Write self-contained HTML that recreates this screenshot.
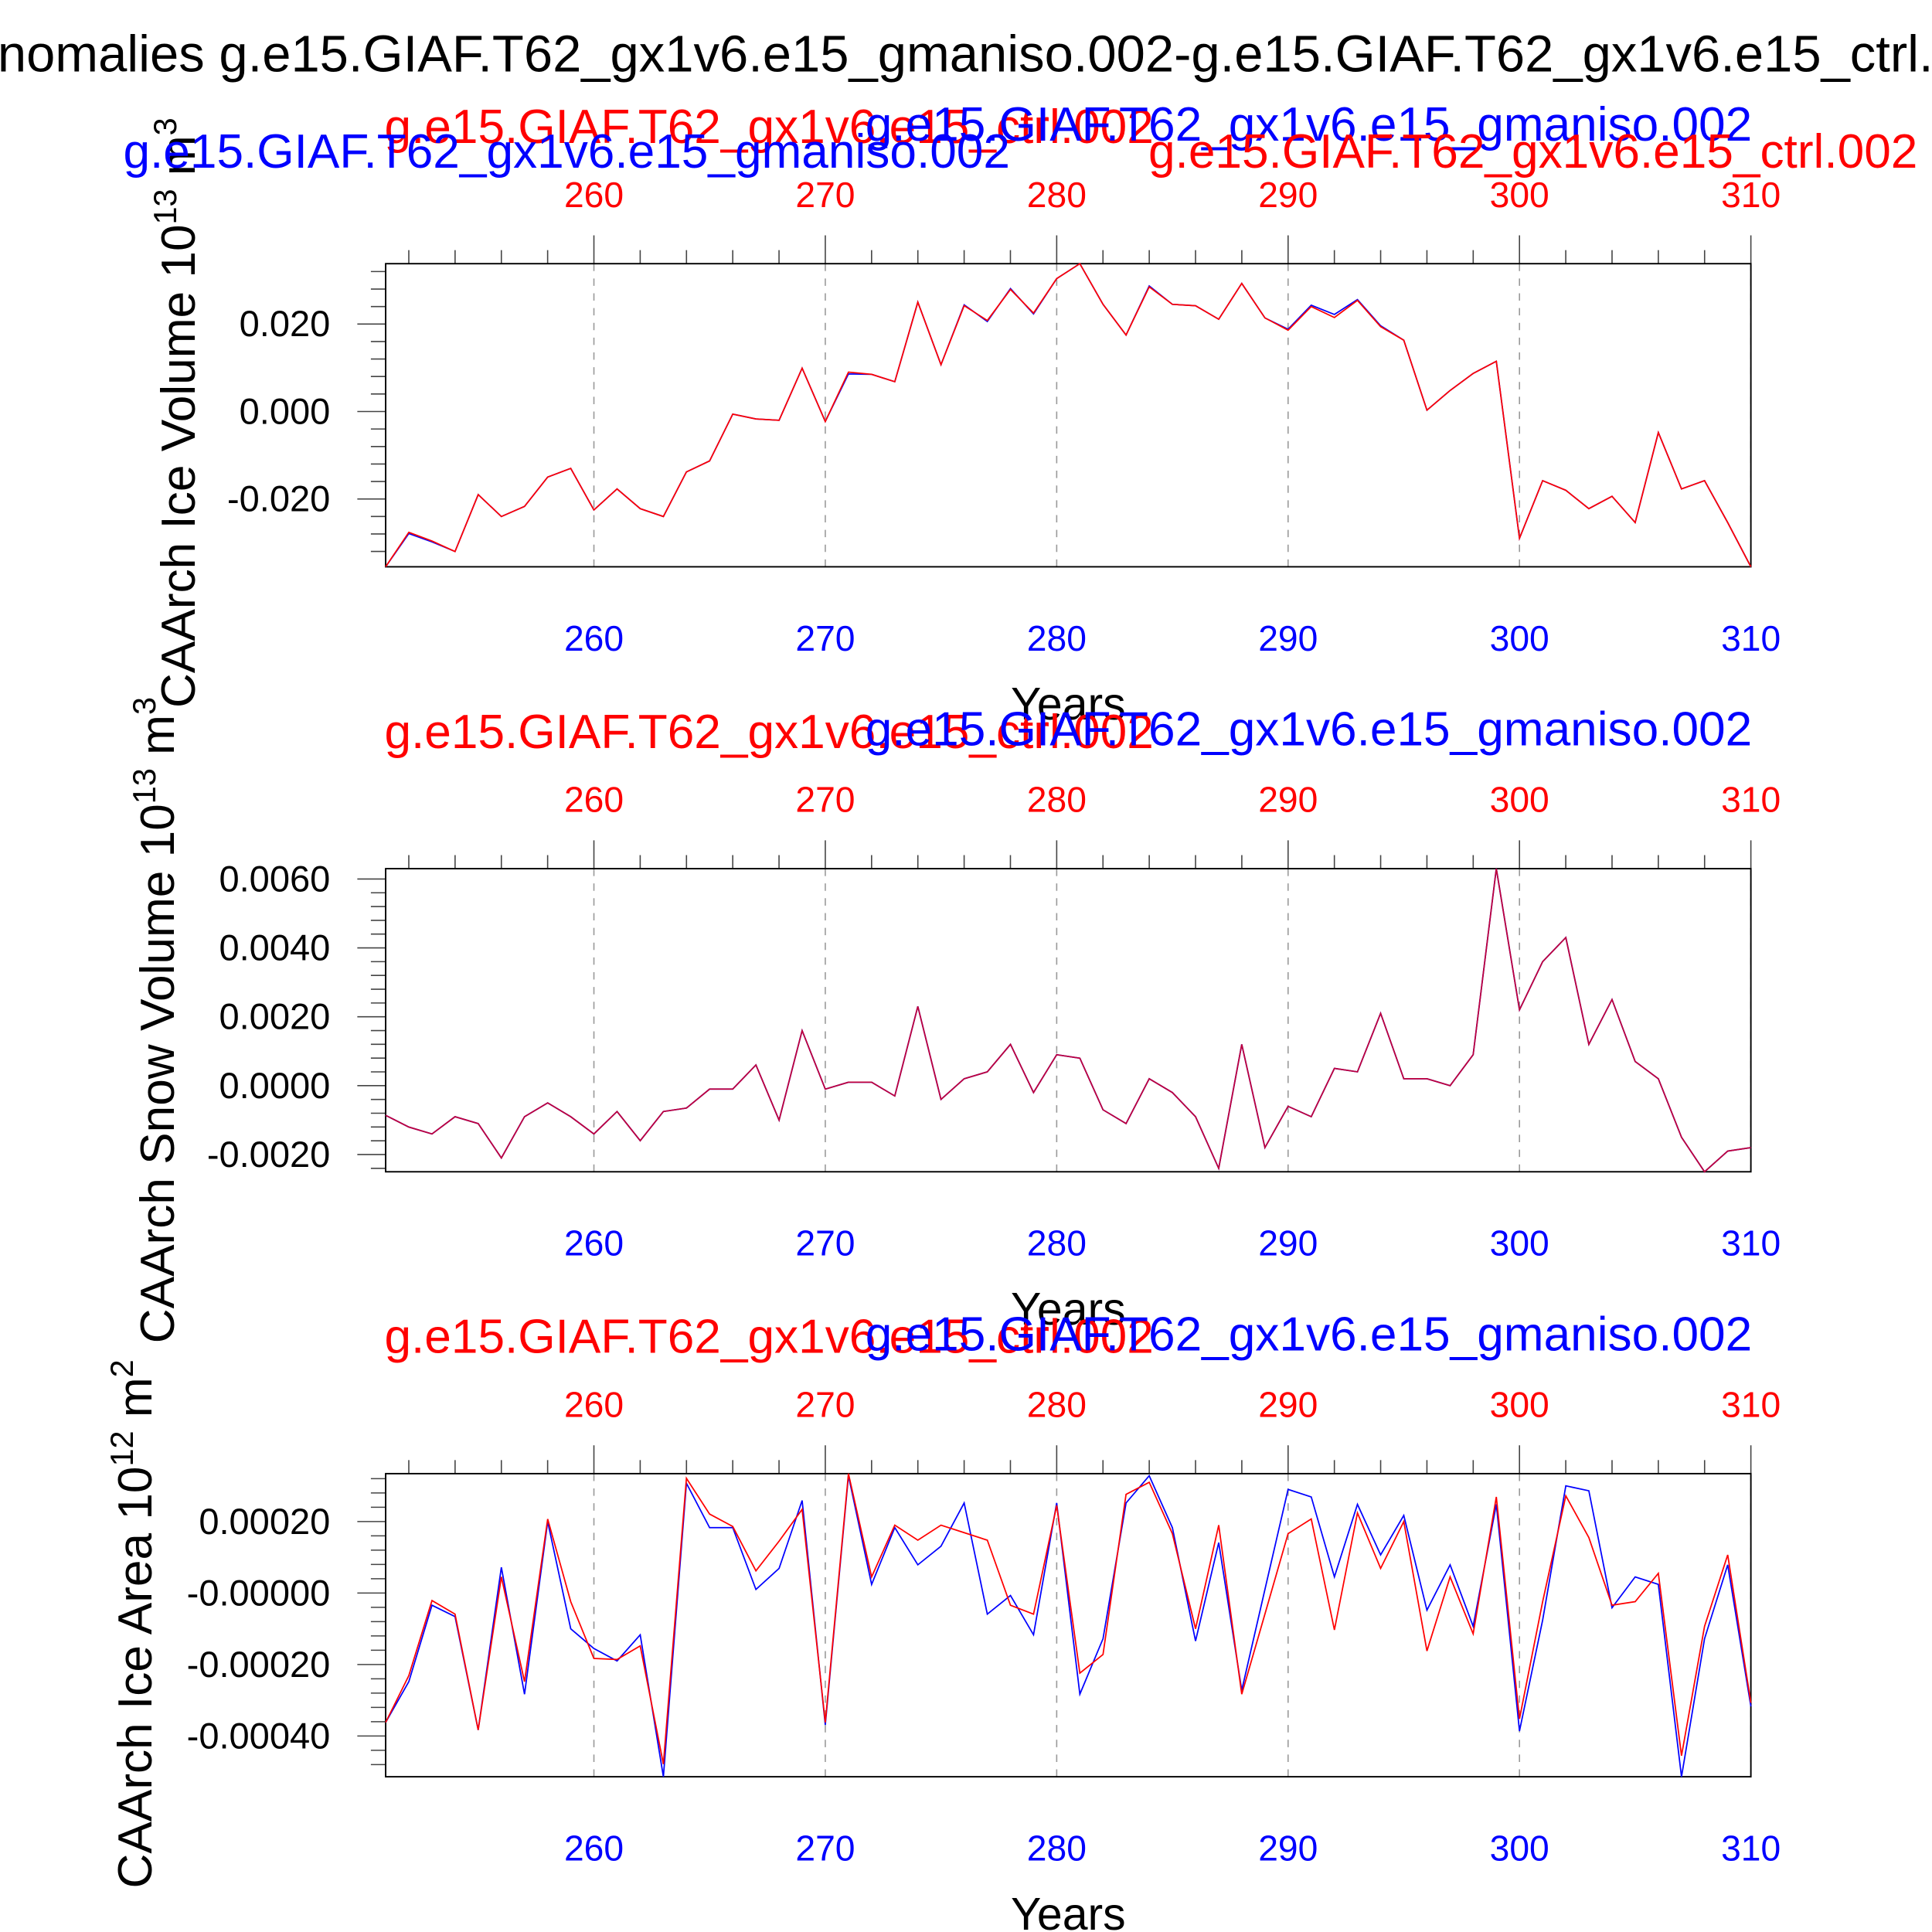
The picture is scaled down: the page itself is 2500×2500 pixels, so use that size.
<!DOCTYPE html>
<html><head><meta charset="utf-8"><style>html,body{margin:0;padding:0;background:#fff}svg{display:block}</style></head>
<body>
<svg id="chart" xmlns="http://www.w3.org/2000/svg" width="2500" height="2500" viewBox="0 0 1568 1568" font-family="'Liberation Sans', sans-serif">
<rect width="1568" height="1568" fill="#fff"/>
<text x="-30" y="58" font-size="42" fill="#000">Anomalies g.e15.GIAF.T62_gx1v6.e15_gmaniso.002-g.e15.GIAF.T62_gx1v6.e15_ctrl.002</text>
<g id="panels"></g>
</svg>
<script>
const years = [];
for (let y = 251; y <= 310; y++) years.push(y);
const xTicks = [260, 270, 280, 290, 300, 310];
const iceVolRed = [-0.0355,-0.0276,-0.0296,-0.032,-0.019,-0.024,-0.0217,-0.015,-0.013,-0.0225,-0.0177,-0.0222,-0.024,-0.0138,-0.0113,-0.0006,-0.0017,-0.002,0.0099,-0.0023,0.009,0.0085,0.0068,0.025,0.0107,0.0242,0.0208,0.0279,0.0225,0.0304,0.0338,0.0245,0.0175,0.0285,0.0245,0.0242,0.0211,0.0293,0.0214,0.0186,0.024,0.0215,0.0254,0.0194,0.0163,0.0003,0.0048,0.0087,0.0115,-0.029,-0.0158,-0.018,-0.0222,-0.0194,-0.0254,-0.0048,-0.0177,-0.0158,-0.0254,-0.0355];
const iceVolBlue = [-0.0355,-0.0279,-0.0298,-0.032,-0.019,-0.024,-0.0217,-0.015,-0.013,-0.0225,-0.0177,-0.0222,-0.024,-0.0138,-0.0113,-0.0006,-0.0017,-0.002,0.0099,-0.0023,0.0086,0.0085,0.0068,0.025,0.0107,0.0244,0.0206,0.0281,0.0223,0.0304,0.0338,0.0245,0.0175,0.0287,0.0245,0.0242,0.0211,0.0293,0.0214,0.0188,0.0243,0.0222,0.0256,0.0196,0.0163,0.0003,0.0048,0.0087,0.0115,-0.029,-0.0158,-0.018,-0.0222,-0.0194,-0.0254,-0.0048,-0.0177,-0.0158,-0.0254,-0.0355];
const iceVolTicks = [-0.02, 0.0, 0.02];
const iceVolTickLabels = ["-0.020", "0.000", "0.020"];
const snowVol = [-0.00086,-0.0012,-0.0014,-0.0009,-0.0011,-0.0021,-0.0009,-0.0005,-0.0009,-0.0014,-0.00075,-0.0016,-0.00075,-0.00065,-0.0001,-0.0001,0.0006,-0.001,0.0016,-0.0001,0.0001,0.0001,-0.0003,0.0023,-0.0004,0.0002,0.0004,0.0012,-0.0002,0.0009,0.0008,-0.0007,-0.0011,0.0002,-0.0002,-0.0009,-0.0024,0.0012,-0.0018,-0.0006,-0.0009,0.0005,0.0004,0.0021,0.0002,0.0002,0.0,0.0009,0.0063,0.0022,0.0036,0.0043,0.0012,0.0025,0.0007,0.0002,-0.0015,-0.0025,-0.0019,-0.0018];
const snowVolTicks = [-0.002, 0.0, 0.002, 0.004, 0.006];
const snowVolTickLabels = ["-0.0020", "0.0000", "0.0020", "0.0040", "0.0060"];
const iceAreaRed = [-3.62,-2.31,-0.21,-0.59,-3.83,0.45,-2.48,2.07,-0.24,-1.83,-1.86,-1.48,-4.79,3.21,2.21,1.86,0.62,1.45,2.34,-3.62,3.34,0.45,1.90,1.48,1.90,1.69,1.48,-0.34,-0.59,2.45,-2.24,-1.72,2.76,3.10,1.66,-1.0,1.90,-2.83,-0.59,1.66,2.07,-1.03,2.24,0.69,2.0,-1.62,0.45,-1.14,2.69,-3.52,-0.24,2.72,1.55,-0.34,-0.24,0.55,-4.55,-0.93,1.07,-3.07];
const iceAreaBlue = [-3.62,-2.48,-0.34,-0.66,-3.83,0.72,-2.83,2.0,-1.0,-1.55,-1.90,-1.17,-5.14,3.07,1.83,1.83,0.10,0.69,2.59,-3.69,3.28,0.24,1.83,0.79,1.31,2.52,-0.59,-0.07,-1.17,2.52,-2.83,-1.28,2.52,3.28,1.83,-1.34,1.41,-2.72,0.10,2.90,2.69,0.45,2.48,1.07,2.17,-0.48,0.79,-0.93,2.48,-3.86,-0.76,3.0,2.86,-0.41,0.45,0.24,-5.14,-1.28,0.79,-3.17];
const iceAreaTicks = [-4, -2, 0, 2];
const iceAreaTickLabels = ["-0.00040", "-0.00020", "-0.00000", "0.00020"];

const NS = "http://www.w3.org/2000/svg";
const root = document.getElementById('panels');
const X0 = 313, X1 = 1421, YEAR0 = 251, YEAR1 = 310;
function xs(yr){ return X0 + (yr - YEAR0) / (YEAR1 - YEAR0) * (X1 - X0); }
function mk(tag, attrs, parent){
  const e = document.createElementNS(NS, tag);
  for (const k in attrs) e.setAttribute(k, attrs[k]);
  (parent || root).appendChild(e);
  return e;
}
function txt(s, attrs, parent){ const e = mk('text', attrs, parent); e.textContent = s; return e; }

function panel(off, cfg){
  const top = 214 + off, bot = 460 + off;
  const ys = v => bot - (v - cfg.min) / (cfg.max - cfg.min) * (bot - top);
  const g = mk('g', {});
  
  
  xTicks.forEach(t => {
    const l = mk('line', {x1: xs(t), x2: xs(t), y1: top, y2: bot, stroke: '#999', 'stroke-width': 1, 'stroke-dasharray': '6,6'}, g);
    
    
  });
  for (let yr = 252; yr <= 310; yr += 2) {
    const major = yr % 10 === 0;
    mk('line', {x1: xs(yr), x2: xs(yr), y1: top, y2: top - (major ? 23 : 11), stroke: '#444', 'stroke-width': 1}, g);
  }
  const step = cfg.ticks[1] - cfg.ticks[0];
  for (let v = cfg.ticks[0] - step; v <= cfg.max + 1e-12; v += step / 5) {
    if (v < cfg.min - 1e-12) continue;
    const rel = Math.abs((v - cfg.ticks[0]) / step - Math.round((v - cfg.ticks[0]) / step)) < 1e-6;
    mk('line', {x1: X0, x2: X0 - (rel ? 23 : 12), y1: ys(v), y2: ys(v), stroke: '#444', 'stroke-width': 1}, g);
  }
  cfg.ticks.forEach((v, i) => {
    const t = txt(cfg.labels[i], {x: 268, y: ys(v) + 10, 'font-size': 29.5, 'text-anchor': 'end', fill: '#000'}, g);
    
    
  });
  const fr = mk('rect', {x: X0, y: top, width: X1 - X0, height: bot - top, fill: 'none', stroke: '#000', 'stroke-width': 1.2}, g);
  
  
  cfg.series.forEach(s => {
    const pts = years.map((yr, i) => xs(yr).toFixed(1) + ',' + ys(s.data[i] * cfg.scale).toFixed(1)).join(' ');
    const p = mk('polyline', {points: pts, fill: 'none', stroke: s.color, 'stroke-width': 1.1}, g);
    
    
  });
  xTicks.forEach(t => {
    const a = txt(String(t), {x: xs(t), y: 168 + off, 'font-size': 29, 'text-anchor': 'middle', fill: '#f00'}, g);
    
    
    const b = txt(String(t), {x: xs(t), y: 528 + off, 'font-size': 29, 'text-anchor': 'middle', fill: '#00f'}, g);
    
    
  });
  const xt = txt('Years', {x: 867, y: 584 + off, 'font-size': 37, 'text-anchor': 'middle', fill: '#000'}, g);
  
  
  const r = txt('g.e15.GIAF.T62_gx1v6.e15_ctrl.002', {x: 312, y: 116 + off, 'font-size': 39, fill: '#f00'}, g);
  
  
  const b = txt('g.e15.GIAF.T62_gx1v6.e15_gmaniso.002', {x: 1422, y: 114 + off, 'font-size': 39, 'text-anchor': 'end', fill: '#00f'}, g);
  
  
  const yt = txt('', {transform: 'translate(' + cfg.ytx + ',' + (cfg.ytc + off) + ') rotate(-90)', 'font-size': 39, 'text-anchor': 'middle', fill: '#000'}, g);
  
  
  const t1 = document.createElementNS(NS, 'tspan'); t1.textContent = cfg.ytitle + ' 10'; yt.appendChild(t1);
  const t2 = document.createElementNS(NS, 'tspan'); t2.setAttribute('dy', '-15'); t2.setAttribute('font-size', '26'); t2.textContent = cfg.exp; yt.appendChild(t2);
  const t3 = document.createElementNS(NS, 'tspan'); t3.setAttribute('dy', '15'); t3.textContent = ' m'; yt.appendChild(t3);
  const t4 = document.createElementNS(NS, 'tspan'); t4.setAttribute('dy', '-15'); t4.setAttribute('font-size', '26'); t4.textContent = cfg.unitExp; yt.appendChild(t4);
  return g;
}

panel(0, {name: 'ice-volume-panel', min: -0.0355, max: 0.0338, scale: 1, ticks: iceVolTicks, labels: iceVolTickLabels, ytitle: 'CAArch Ice Volume', exp: '13', unitExp: '3', ytx: 158, ytc: 335,
  series: [{data: iceVolBlue, color: '#00f', name: 'ice-volume-blue-line'}, {data: iceVolRed, color: '#f00', name: 'ice-volume-red-line'}]});
panel(491, {name: 'snow-volume-panel', min: -0.0025, max: 0.0063, scale: 1, ticks: snowVolTicks, labels: snowVolTickLabels, ytitle: 'CAArch Snow Volume', exp: '13', unitExp: '3', ytx: 141, ytc: 337,
  series: [{data: snowVol, color: '#00f', name: 'snow-volume-blue-line'}, {data: snowVol, color: '#c0003a', name: 'snow-volume-red-line'}]});
panel(982, {name: 'ice-area-panel', min: -5.14, max: 3.34, scale: 1, ticks: iceAreaTicks, labels: iceAreaTickLabels, ytitle: 'CAArch Ice Area', exp: '12', unitExp: '2', ytx: 123, ytc: 336,
  series: [{data: iceAreaBlue, color: '#00f', name: 'ice-area-blue-line'}, {data: iceAreaRed, color: '#f00', name: 'ice-area-red-line'}]});

const e1 = txt('g.e15.GIAF.T62_gx1v6.e15_gmaniso.002', {x: 100, y: 136, 'font-size': 39, fill: '#00f'});


const e2 = txt('g.e15.GIAF.T62_gx1v6.e15_ctrl.002', {x: 932, y: 136, 'font-size': 39, fill: '#f00'});


</script>
</body></html>
